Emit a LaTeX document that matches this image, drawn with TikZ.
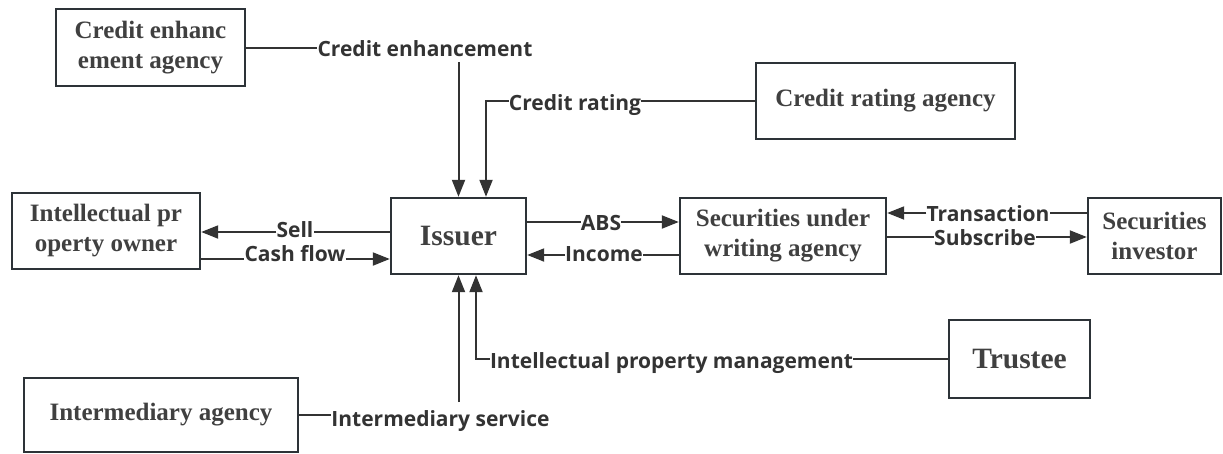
\documentclass[tikz,border=0pt]{standalone}
\usepackage{fontspec}
\setmainfont{Liberation Serif}
\newfontfamily\labfont{Open Sans}
\usetikzlibrary{arrows.meta}
\definecolor{ln}{HTML}{333333}
\definecolor{bx}{HTML}{2D3338}
\definecolor{bt}{HTML}{404040}
\definecolor{lt}{HTML}{333333}
\begin{document}
\begin{tikzpicture}[x=1pt,y=-1pt,
  box/.style={draw=bx, line width=2.4pt, fill=white, align=center, text=bt,
    inner sep=0pt, font=\bfseries\fontsize{25}{30}\selectfont},
  bigbox/.style={box, font=\bfseries\fontsize{29.5}{34}\selectfont},
  lab/.style={anchor=base, text=lt, inner sep=0pt, font=\labfont\bfseries\fontsize{21}{25}\selectfont},
  con/.style={draw=ln, line width=2pt},
  arr/.style={con, -{Triangle[length=17pt,width=13pt]}}]
\useasboundingbox (0,0) rectangle (1223,453);
\fill[white] (0,0) rectangle (1223,453);
% boxes
\node[box, minimum width=189pt, minimum height=77pt] (ce) at (150.5,47.5) {Credit enhanc\\ement agency};
\node[box, minimum width=259pt, minimum height=76pt] (cr) at (885.5,101) {Credit rating agency};
\node[box, minimum width=188pt, minimum height=76pt] (ip) at (106,231) {Intellectual pr\\operty owner};
\node[bigbox, minimum width=135pt, minimum height=76pt] (iss) at (458.5,236) {Issuer};
\node[box, minimum width=206pt, minimum height=76pt] (su) at (783,236) {Securities under\\writing agency};
\node[box, minimum width=133pt, minimum height=76pt] (si) at (1154.5,236) {Securities\\investor};
\node[bigbox, minimum width=141pt, minimum height=78pt] (tr) at (1019.5,359) {Trustee};
\node[box, minimum width=274pt, minimum height=74pt] (im) at (161,415) {Intermediary agency};
% labels
\node[lab] (celab) at (425,56.5) {Credit enhancement};
\node[lab] (crlab) at (575,110) {Credit rating};
\node[lab] (sell) at (295,237.5) {Sell};
\node[lab] (cash) at (295,261.5) {Cash flow};
\node[lab] (abs) at (601,230) {ABS};
\node[lab] (inc) at (604,261.5) {Income};
\node[lab] (trans) at (988,221.5) {Transaction};
\node[lab] (subs) at (985,245) {Subscribe};
\node[lab] (ipm) at (671.5,368) {Intellectual property management};
\node[lab] (ims) at (440.5,426.5) {Intermediary service};
% level coordinates
\coordinate (ySell) at (0,232);
\coordinate (yCash) at (0,259);
\coordinate (yAbs) at (0,222);
\coordinate (yInc) at (0,255);
\coordinate (yTr) at (0,213);
\coordinate (ySub) at (0,237);
\coordinate (ceDrop) at (458.5,62);
\coordinate (imRise) at (458.5,402);
% credit enhancement
\draw[con] (ce.east) -- (ce.east -| celab.west);
\draw[arr] (ceDrop) -- (iss.north);
% credit rating
\draw[con] (cr.west) -- (cr.west -| crlab.east);
\draw[arr] (cr.west -| crlab.west) -| ([xshift=27.5pt]iss.north);
% sell / cash flow
\draw[con] (ySell -| iss.west) -- (ySell -| sell.east);
\draw[arr] (ySell -| sell.west) -- (ySell -| ip.east);
\draw[con] (yCash -| ip.east) -- (yCash -| cash.west);
\draw[arr] (yCash -| cash.east) -- (yCash -| iss.west);
% ABS / income
\draw[con] (yAbs -| iss.east) -- (yAbs -| abs.west);
\draw[arr] (yAbs -| abs.east) -- (yAbs -| su.west);
\draw[con] (yInc -| su.west) -- (yInc -| inc.east);
\draw[arr] (yInc -| inc.west) -- (yInc -| iss.east);
% transaction / subscribe
\draw[con] (yTr -| si.west) -- (yTr -| trans.east);
\draw[arr] (yTr -| trans.west) -- (yTr -| su.east);
\draw[con] (ySub -| su.east) -- (ySub -| subs.west);
\draw[arr] (ySub -| subs.east) -- (ySub -| si.west);
% trustee
\draw[con] (tr.west) -- (tr.west -| ipm.east);
\draw[arr] (tr.west -| ipm.west) -| ([xshift=17.5pt]iss.south);
% intermediary
\draw[con] (im.east) -- (im.east -| ims.west);
\draw[arr] (imRise) -- (iss.south);
\end{tikzpicture}
\end{document}
